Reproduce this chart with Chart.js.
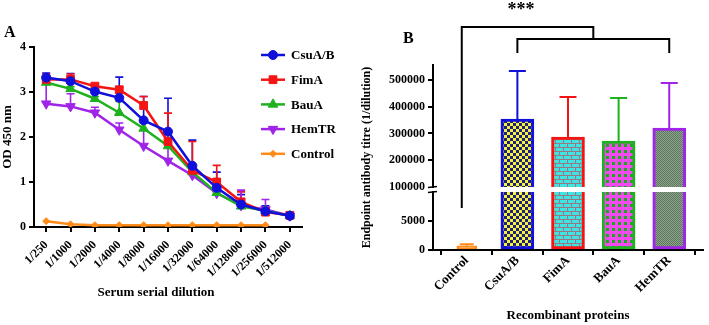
<!DOCTYPE html>
<html>
<head>
<meta charset="utf-8">
<script src="https://cdn.jsdelivr.net/npm/chart.js@4.4.1/dist/chart.umd.min.js"></script>
<style>
  html, body { margin: 0; padding: 0; background: #fff; }
  #wrap { position: relative; width: 709px; height: 325px; }
  #chartA { position: absolute; left: 0; top: 0; }
  #chartB { position: absolute; left: 360px; top: 0; }
</style>
</head>
<body>
<div id="wrap">
  <canvas id="chartA" width="360" height="325"></canvas>
  <canvas id="chartB" width="349" height="325"></canvas>
</div>
<script>
// ---- data, panel A (OD 450 nm per dilution, mean and upper SD) ----
const dilutions = ['1/250', '1/1000', '1/2000', '1/4000', '1/8000', '1/16000',
  '1/32000', '1/64000', '1/128000', '1/256000', '1/512000'];
const csuAB = [3.32, 3.24, 3.01, 2.87, 2.37, 2.12, 1.36, 0.87, 0.50, 0.35, 0.25];
const csuABErr = [0.10, 0.17, 0.17, 0.46, 0.53, 0.74, 0.57, 0.35, 0.22, 0.12, 0.03];
const fimA = [3.28, 3.28, 3.13, 3.05, 2.70, 1.90, 1.26, 1.00, 0.56, 0.33, 0.26];
const fimAErr = [0.12, 0.12, 0.05, 0.06, 0.20, 0.63, 0.64, 0.37, 0.22, 0.12, 0.03];
const bauA = [3.21, 3.07, 2.85, 2.54, 2.19, 1.80, 1.22, 0.76, 0.46, 0.36, 0.25];
const bauAErr = [0.06, 0.05, 0.05, 0.25, 0.12, 0.10, 0.08, 0.05, 0.05, 0.03, 0.02];
const hemTR = [2.74, 2.68, 2.54, 2.16, 1.80, 1.47, 1.15, 0.75, 0.48, 0.39, 0.25];
const hemTRErr = [0.46, 0.28, 0.12, 0.15, 0.35, 0.30, 0.08, 0.10, 0.34, 0.22, 0.02];
const control = [0.13, 0.06, 0.04, 0.04, 0.04, 0.04, 0.04, 0.04, 0.04, 0.04, null];
const odTicks = [0, 1, 2, 3, 4];

// ---- data, panel B (endpoint titre) ----
const proteins = ['Control', 'CsuA/B', 'FimA', 'BauA', 'HemTR'];
const titre = [700, 354000, 287000, 272000, 320000];
const titreErr = [300, 180000, 149000, 161000, 169000];
const titreTicks = [0, 5000, 100000, 200000, 300000, 400000, 500000];

const serif = "'Liberation Serif', 'Times New Roman', serif";
Chart.defaults.font.family = serif;
Chart.defaults.font.weight = 'bold';
Chart.defaults.color = '#000';

const BLUE = '#1010dc', RED = '#f41414', GREEN = '#1eb21e', PURPLE = '#a024e8', ORANGE = '#ff8c1a';

function axisGrid(extra) {
  return Object.assign({ display: true, drawOnChartArea: false, drawTicks: true,
    tickLength: 5, color: '#000', lineWidth: 2 }, extra || {});
}

// ---------------- panel A ----------------
const seriesA = [
  { label: 'CsuA/B', data: csuAB, errs: csuABErr, color: BLUE, style: 'circle', r: 4.5, rot: 0 },
  { label: 'FimA', data: fimA, errs: fimAErr, color: RED, style: 'rect', r: 5.5, rot: 0 },
  { label: 'BauA', data: bauA, errs: bauAErr, color: GREEN, style: 'triangle', r: 5.5, rot: 0 },
  { label: 'HemTR', data: hemTR, errs: hemTRErr, color: PURPLE, style: 'triangle', r: 5.5, rot: 180 },
  { label: 'Control', data: control, errs: null, color: ORANGE, style: 'rectRot', r: 3.5, rot: 0 }
];

const errorBarsA = {
  id: 'errorBarsA',
  beforeDatasetsDraw(chart) {
    const { ctx, scales: { x, y } } = chart;
    chart.data.datasets.forEach(ds => {
      if (!ds.errs) return;
      ctx.save();
      ctx.strokeStyle = ds.borderColor;
      ctx.lineWidth = 1.6;
      ds.data.forEach((v, j) => {
        if (v == null || !ds.errs[j]) return;
        const px = x.getPixelForValue(j);
        const y0 = y.getPixelForValue(v);
        const y1 = y.getPixelForValue(v + ds.errs[j]);
        ctx.beginPath();
        ctx.moveTo(px, y0); ctx.lineTo(px, y1);
        ctx.moveTo(px - 4, y1); ctx.lineTo(px + 4, y1);
        ctx.stroke();
      });
      ctx.restore();
    });
  }
};

const decorA = {
  id: 'decorA',
  afterDraw(chart) {
    const ctx = chart.ctx;
    ctx.save();
    // legend
    chart.data.datasets.forEach((ds, i) => {
      const yy = 55 + i * 24.7;
      ctx.strokeStyle = ds.borderColor;
      ctx.fillStyle = ds.borderColor;
      ctx.lineWidth = 2.5;
      ctx.beginPath(); ctx.moveTo(261, yy); ctx.lineTo(285, yy); ctx.stroke();
      ctx.lineWidth = 1;
      Chart.helpers.drawPoint(ctx, { pointStyle: ds.pointStyle, radius: ds.pointRadius,
        rotation: ds.pointRotation, borderWidth: 1 }, 273, yy);
      ctx.fillStyle = '#000';
      ctx.font = 'bold 13px ' + serif;
      ctx.textBaseline = 'middle';
      ctx.textAlign = 'left';
      ctx.fillText(ds.label, 291, yy + 1);
    });
    ctx.font = 'bold 13px ' + serif;
    ctx.textAlign = 'center';
    ctx.fillText('Serum serial dilution', 156, 293);
    ctx.font = 'bold 16px ' + serif;
    ctx.textAlign = 'left';
    ctx.textBaseline = 'alphabetic';
    ctx.fillText('A', 4, 37);
    ctx.restore();
  }
};

new Chart(document.getElementById('chartA'), {
  type: 'line',
  data: {
    labels: dilutions,
    datasets: seriesA.map(s => ({
      label: s.label, data: s.data, errs: s.errs,
      borderColor: s.color, backgroundColor: s.color,
      pointBackgroundColor: s.color, pointBorderColor: s.color, pointBorderWidth: 1,
      pointStyle: s.style, pointRadius: s.r, pointRotation: s.rot,
      borderWidth: 2.5, tension: 0, fill: false
    }))
  },
  options: {
    responsive: false,
    animation: false,
    layout: { padding: { top: 47, right: 58, bottom: 24, left: 0 } },
    plugins: { legend: { display: false }, tooltip: { enabled: false } },
    scales: {
      x: {
        type: 'category', offset: true,
        grid: axisGrid(), border: { color: '#000', width: 2 },
        ticks: { font: { size: 12, weight: 'bold' }, color: '#000', minRotation: 45, maxRotation: 45, autoSkip: false, padding: 6 },
        afterFit(s) { s.height = 74; }
      },
      y: {
        min: 0, max: 4,
        grid: axisGrid(), border: { color: '#000', width: 2 },
        ticks: { font: { size: 12, weight: 'bold' }, color: '#000', padding: 3 },
        afterBuildTicks(s) { s.ticks = odTicks.map(v => ({ value: v })); },
        title: { display: true, text: 'OD 450 nm', font: { size: 13, weight: 'bold' }, color: '#000', padding: 0 },
        afterFit(s) { s.width = 34; }
      }
    }
  },
  plugins: [errorBarsA, decorA]
});

// ---------------- panel B ----------------
// broken y axis: lower part 0..LOW, upper part HIGH..max
const BREAK_LOW = 10000, BREAK_HIGH = 100000, LOW_PX = 58, GAP_PX = 5;

class BrokenLinearScale extends Chart.LinearScale {
  static id = 'brokenLinear';
  static defaults = {};
  getPixelForValue(v) {
    if (v == null) return NaN;
    const b = this.bottom, t = this.top;
    if (v <= BREAK_LOW) return b - (v / BREAK_LOW) * LOW_PX;
    if (v < BREAK_HIGH) return b - LOW_PX - (v - BREAK_LOW) / (BREAK_HIGH - BREAK_LOW) * GAP_PX;
    return b - LOW_PX - GAP_PX - (v - BREAK_HIGH) / (this.max - BREAK_HIGH) * (b - t - LOW_PX - GAP_PX);
  }
  getValueForPixel(p) {
    const b = this.bottom, t = this.top;
    if (p >= b - LOW_PX) return (b - p) / LOW_PX * BREAK_LOW;
    return BREAK_HIGH + (b - LOW_PX - GAP_PX - p) / (b - t - LOW_PX - GAP_PX) * (this.max - BREAK_HIGH);
  }
}

// category axis with a wider margin at both ends
const X_EDGE = 0.667;
class EdgeCategoryScale extends Chart.CategoryScale {
  static id = 'edgeCategory';
  static defaults = {};
  configure() {
    super.configure();
    this._startValue = this.min - X_EDGE;
    this._valueRange = (this.max - this.min) + 2 * X_EDGE;
  }
}
Chart.register(BrokenLinearScale, EdgeCategoryScale);

function makePattern(w, h, draw) {
  const c = document.createElement('canvas');
  c.width = w; c.height = h;
  const g = c.getContext('2d');
  draw(g);
  return g.createPattern(c, 'repeat');
}
const checker = makePattern(6, 6, g => {
  g.fillStyle = '#f4f43c'; g.fillRect(0, 0, 6, 6);
  g.fillStyle = '#20207a'; g.fillRect(0, 0, 3, 3); g.fillRect(3, 3, 3, 3);
});
const bricks = makePattern(8, 8, g => {
  g.fillStyle = '#9a7880'; g.fillRect(0, 0, 8, 8);
  g.fillStyle = '#3ee4e4';
  g.fillRect(0, 0, 7, 3);
  g.fillRect(0, 4, 3, 3); g.fillRect(4, 4, 4, 3);
});
const grid = makePattern(6, 6, g => {
  g.fillStyle = '#f04af0'; g.fillRect(0, 0, 6, 6);
  g.fillStyle = '#1ca81c'; g.fillRect(0, 0, 3, 3);
});
const fine = makePattern(2, 2, g => {
  g.fillStyle = '#9c9c9c'; g.fillRect(0, 0, 2, 2);
  g.fillStyle = '#4e7e4e'; g.fillRect(0, 0, 1, 1); g.fillRect(1, 1, 1, 1);
});
const barFills = [ORANGE, checker, bricks, grid, fine];
const barEdges = [ORANGE, BLUE, RED, GREEN, PURPLE];

const decorB = {
  id: 'decorB',
  afterDatasetsDraw(chart) {
    const { ctx, chartArea, scales: { x, y } } = chart;
    const yHigh = y.getPixelForValue(BREAK_HIGH), yLow = y.getPixelForValue(BREAK_LOW);
    ctx.save();
    ctx.fillStyle = '#fff';
    ctx.fillRect(chartArea.left + 1, yHigh, chartArea.right - chartArea.left, yLow - yHigh);
    // error bars (upper only)
    ctx.lineWidth = 2;
    titre.forEach((v, i) => {
      const px = x.getPixelForValue(i);
      const y0 = y.getPixelForValue(v), y1 = y.getPixelForValue(v + titreErr[i]);
      const half = i === 0 ? 7 : 8.5;
      ctx.strokeStyle = barEdges[i];
      ctx.beginPath();
      ctx.moveTo(px, y0); ctx.lineTo(px, y1);
      ctx.moveTo(px - half, y1); ctx.lineTo(px + half, y1);
      ctx.stroke();
    });
    ctx.restore();
  },
  afterDraw(chart) {
    const { ctx, chartArea, scales: { x, y } } = chart;
    const yHigh = y.getPixelForValue(BREAK_HIGH), yLow = y.getPixelForValue(BREAK_LOW);
    const ax = chartArea.left;
    ctx.save();
    // axis break marks
    ctx.fillStyle = '#fff';
    ctx.fillRect(ax - 2, yHigh + 1, 4, yLow - yHigh - 2);
    ctx.strokeStyle = '#000';
    ctx.lineWidth = 1.6;
    ctx.beginPath();
    ctx.moveTo(ax - 5, yHigh + 0.5); ctx.lineTo(ax + 4, yHigh - 0.5);
    ctx.moveTo(ax - 5, yLow + 0.5); ctx.lineTo(ax + 4, yLow - 0.5);
    ctx.stroke();
    // significance brackets
    const xc = x.getPixelForValue(0) - 5;
    const x1 = x.getPixelForValue(1), x4 = x.getPixelForValue(4);
    const mid = (x1 + x4) / 2;
    ctx.lineWidth = 2;
    ctx.beginPath();
    ctx.moveTo(xc, 208); ctx.lineTo(xc, 27); ctx.lineTo(mid, 27); ctx.lineTo(mid, 39);
    ctx.moveTo(x1, 53); ctx.lineTo(x1, 39); ctx.lineTo(x4, 39); ctx.lineTo(x4, 53);
    ctx.stroke();
    ctx.fillStyle = '#000';
    ctx.font = 'bold 18px ' + serif;
    ctx.textAlign = 'center';
    ctx.textBaseline = 'top';
    ctx.fillText('***', 161, 1);
    ctx.font = 'bold 16px ' + serif;
    ctx.textAlign = 'left';
    ctx.textBaseline = 'alphabetic';
    ctx.fillText('B', 43, 43);
    ctx.restore();
  }
};

new Chart(document.getElementById('chartB'), {
  type: 'bar',
  data: {
    labels: proteins,
    datasets: [
      {
        data: titre.map((v, i) => i === 0 ? v : null),
        backgroundColor: barFills[0], borderColor: barEdges[0],
        borderWidth: 2, borderSkipped: false, barThickness: 20, grouped: false
      },
      {
        data: titre.map((v, i) => i === 0 ? null : v),
        backgroundColor: barFills, borderColor: barEdges,
        borderWidth: 3, borderSkipped: false, barThickness: 33, grouped: false
      }
    ]
  },
  options: {
    responsive: false,
    animation: false,
    layout: { padding: { top: 65, right: 6, bottom: 2, left: 0 } },
    plugins: { legend: { display: false }, tooltip: { enabled: false } },
    scales: {
      x: {
        type: 'edgeCategory', offset: true,
        grid: axisGrid(), border: { color: '#000', width: 2 },
        ticks: { font: { size: 13, weight: 'bold' }, color: '#000', minRotation: 45, maxRotation: 45, autoSkip: false, padding: -2 },
        title: { display: true, text: 'Recombinant proteins', font: { size: 13, weight: 'bold' }, color: '#000', padding: 0 },
        afterFit(s) { s.height = 73; }
      },
      y: {
        type: 'brokenLinear', min: 0, max: 556000,
        grid: axisGrid({ color: c => (c.tick && c.tick.value === BREAK_HIGH) ? 'rgba(0,0,0,0)' : '#000' }),
        border: { color: '#000', width: 2 },
        ticks: { font: { size: 12, weight: 'bold' }, color: '#000', padding: 3, callback: v => String(v) },
        afterBuildTicks(s) { s.ticks = titreTicks.map(v => ({ value: v })); },
        title: { display: true, text: 'Endpoint antibody titre (1/dilution)', font: { size: 12, weight: 'bold' }, color: '#000', padding: 0 },
        afterFit(s) { s.width = 73; }
      }
    }
  },
  plugins: [decorB]
});
</script>
</body>
</html>
